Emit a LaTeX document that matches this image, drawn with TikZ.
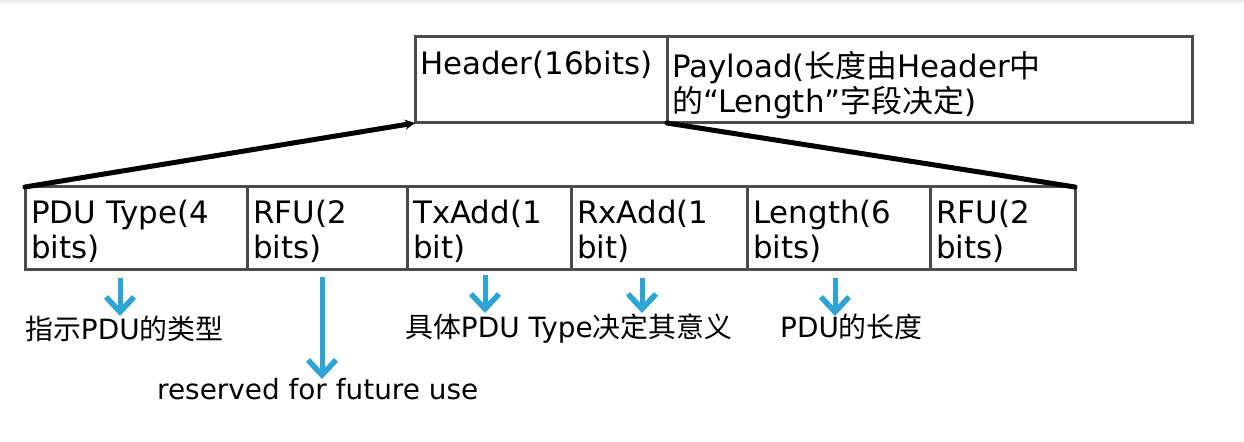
\documentclass[tikz,border=0pt]{standalone}
\usepackage{fontspec}
\setmainfont{DejaVu Sans}
\newfontfamily\cjk{Noto Sans CJK SC}
\usetikzlibrary{arrows.meta}
\definecolor{cellgray}{HTML}{4A4A4A}
\definecolor{arrblue}{HTML}{2AA5D5}
\begin{document}
\begin{tikzpicture}[x=1bp,y=-1bp,
 cell/.style={draw=cellgray, line width=3bp, inner sep=0, outer sep=0, anchor=north west},
 txt/.style={anchor=north west, inner sep=0, align=left, font=\fontsize{31}{35}\selectfont},
 lbl/.style={anchor=base west, inner sep=0, font=\fontsize{28}{32}\selectfont},
 link/.style={line width=5bp, black, line cap=round},
 bluearr/.style={arrblue, line width=5bp, -{Straight Barb[length=15bp,width=28bp,line width=5.5bp]}}]
\useasboundingbox (0,0) rectangle (1244,442);
\fill[gray!15] (0,0) rectangle (1244,3);
% top boxes
\node[cell, minimum width=252bp, minimum height=86bp] (hdr) at (415,37) {};
\node[cell, minimum width=525bp, minimum height=86bp] (pay) at (667,37) {};
\node[txt] (thdr) at (420,51) {Header(16bits)};
\node[txt] (tpay) at (672,51) {Payload({\cjk 长度由}Header{\cjk 中}\\{\cjk 的}“Length”{\cjk 字段决定})};
% bottom cells
\node[cell, minimum width=222bp, minimum height=83bp] (c1) at (25,187) {};
\node[cell, minimum width=160bp, minimum height=83bp] (c2) at (247,187) {};
\node[cell, minimum width=164bp, minimum height=83bp] (c3) at (407,187) {};
\node[cell, minimum width=176bp, minimum height=83bp] (c4) at (571,187) {};
\node[cell, minimum width=183bp, minimum height=83bp] (c5) at (747,187) {};
\node[cell, minimum width=145bp, minimum height=83bp] (c6) at (930,187) {};
\node[txt] (t1) at (31,200) {PDU Type(4\\bits)};
\node[txt] (t2) at (253,200) {RFU(2\\bits)};
\node[txt] (t3) at (413,200) {TxAdd(1\\bit)};
\node[txt] (t4) at (577,200) {RxAdd(1\\bit)};
\node[txt] (t5) at (753,200) {Length(6\\bits)};
\node[txt] (t6) at (936,200) {RFU(2\\bits)};
% links
\draw[link, -{Stealth[length=10bp,width=10bp]}] (c1.north west) -- (hdr.south west);
\draw[link] (pay.south west) -- (c6.north east);
% labels
\node[lbl] (l1) at (25,340) {{\cjk 指示}PDU{\cjk 的类型}};
\node[lbl] (l2) at (157,400) {reserved for future use};
\node[lbl] (l3) at (405,338) {{\cjk 具体}PDU Type{\cjk 决定其意义}};
\node[lbl] (l4) at (780,338) {PDU{\cjk 的长度}};
% blue arrows
\coordinate (a1s) at (120,278); \coordinate (a1e) at (120,316);
\coordinate (a2s) at (322,277); \coordinate (a2e) at (322,379);
\coordinate (a3s) at (485,275); \coordinate (a3e) at (485,313);
\coordinate (a4s) at (642,278); \coordinate (a4e) at (642,313);
\coordinate (a5s) at (835,278); \coordinate (a5e) at (835,316);
\draw[bluearr] (a1s) -- (a1e);
\draw[bluearr] (a2s) -- (a2e);
\draw[bluearr] (a3s) -- (a3e);
\draw[bluearr] (a4s) -- (a4e);
\draw[bluearr] (a5s) -- (a5e);
\end{tikzpicture}
\end{document}
